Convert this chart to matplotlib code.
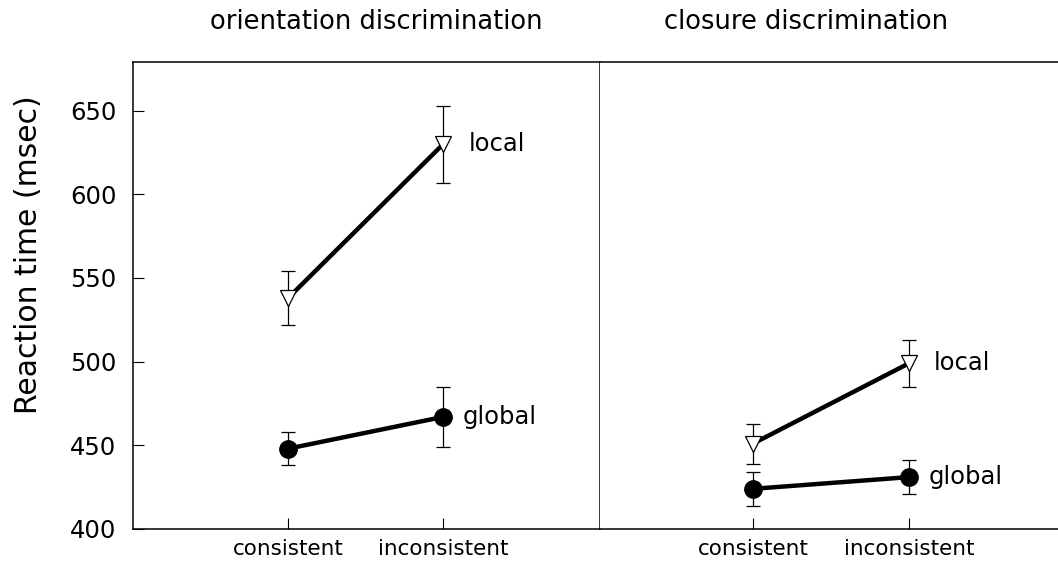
import matplotlib
matplotlib.use("Agg")
import matplotlib.pyplot as plt

panels = ["orientation discrimination", "closure discrimination"]
conditions = ["consistent", "inconsistent"]

# orientation discrimination
orient_local = [538, 630]
orient_local_err = [16, 23]
orient_global = [448, 467]
orient_global_err = [10, 18]

# closure discrimination
closure_local = [451, 499]
closure_local_err = [12, 14]
closure_global = [424, 431]
closure_global_err = [10, 10]

yticks = [400, 450, 500, 550, 600, 650]

plt.rcParams['font.family'] = ['DejaVu Sans']

fig = plt.figure(figsize=(10.58, 5.65), dpi=100)
W, H = 1058, 565
ax_bottom = (H - 529) / H
ax_h = (529 - 62) / H
axL = fig.add_axes([133 / W, ax_bottom, 467 / W, ax_h])
axR = fig.add_axes([600 / W, ax_bottom, 458 / W, ax_h], sharey=axL)

xs = [1, 2]

def draw(ax, local, local_err, glob, glob_err):
    ax.plot(xs, local, color='black', lw=3.2, zorder=2, solid_capstyle='butt')
    ax.plot(xs, glob, color='black', lw=3.2, zorder=2, solid_capstyle='butt')
    ax.errorbar(xs, local, yerr=local_err, fmt='none', ecolor='black',
                elinewidth=0.9, capsize=5, capthick=0.9, zorder=1)
    ax.errorbar(xs, glob, yerr=glob_err, fmt='none', ecolor='black',
                elinewidth=0.9, capsize=5, capthick=0.9, zorder=1)
    ax.plot(xs, local, linestyle='none', marker='v', markersize=11,
            markerfacecolor='white', markeredgecolor='black',
            markeredgewidth=0.9, zorder=3)
    ax.plot(xs, glob, linestyle='none', marker='o', markersize=12.5,
            markerfacecolor='black', markeredgecolor='black', zorder=3)
    ax.annotate('local', (xs[1], local[1]), xytext=(18, 0),
                textcoords='offset points', va='center', ha='left',
                fontsize=17.5)
    ax.annotate('global', (xs[1], glob[1]), xytext=(14, 0),
                textcoords='offset points', va='center', ha='left',
                fontsize=17.5)
    ax.set_xticks(xs)
    ax.set_xticklabels(conditions, fontsize=15.5, fontweight='medium')
    ax.tick_params(axis='x', direction='in', length=8, width=0.8, pad=7)
    for s in ax.spines.values():
        s.set_linewidth(1.1)

draw(axL, orient_local, orient_local_err, orient_global, orient_global_err)
draw(axR, closure_local, closure_local_err, closure_global, closure_global_err)

axL.set_xlim(0, 3.01)
axR.set_xlim(0.02, 2.955)
axL.set_ylim(400, 679)
axL.set_yticks(yticks)
axL.set_yticklabels([str(v) for v in yticks], fontsize=17.5)
axL.tick_params(axis='y', direction='in', length=8, width=0.8, pad=12)
axR.tick_params(axis='y', left=False, labelleft=False)
axR.spines['left'].set_visible(False)
axR.spines['right'].set_visible(False)

axL.set_ylabel('Reaction time (msec)', fontsize=21.5, va='center')
axL.yaxis.set_label_coords(-0.224, 0.587)

axL.set_title(panels[0], fontsize=18.5, pad=24, x=0.52)
axR.set_title(panels[1], fontsize=18.5, pad=24, x=0.45)

fig.savefig('out.png', dpi=100)
